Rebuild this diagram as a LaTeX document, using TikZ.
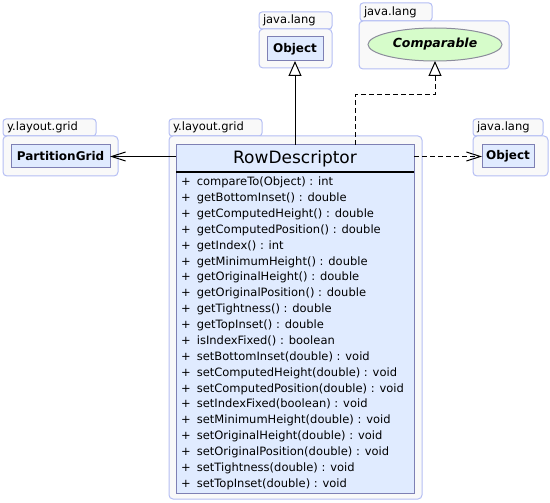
\documentclass[tikz,border=0pt]{standalone}
\usepackage{fontspec}
\setmainfont{DejaVu Sans}
\usetikzlibrary{arrows.meta,positioning,shapes.geometric}

\definecolor{pkgfill}{HTML}{F9F9F9}
\definecolor{pkgline}{HTML}{B4BEF4}
\definecolor{clsfill}{HTML}{E0EBFF}
\definecolor{clsline}{HTML}{7E80B4}
\definecolor{ifcfill}{HTML}{D6FCCA}
\definecolor{ifcline}{HTML}{8C8C9C}

\tikzset{
  pkgtab/.style={draw=pkgline,fill=pkgfill,line width=1pt,rounded corners=3pt,
    anchor=north west,inner xsep=4pt,inner ysep=0pt,outer sep=0pt,minimum height=17pt,
    align=left,font=\fontsize{11.5}{13}\selectfont},
  pkgbody/.style={draw=pkgline,fill=pkgfill,line width=1pt,rounded corners=4pt,
    anchor=north west,inner sep=0pt,outer sep=0pt},
  cls/.style={draw=clsline,fill=clsfill,line width=1pt,inner sep=0pt,outer sep=0pt,
    font=\fontsize{12}{14}\selectfont\bfseries},
  ifc/.style={ellipse,draw=ifcline,fill=ifcfill,line width=1pt,inner sep=0pt,outer sep=0pt,
    font=\fontsize{12.5}{14}\selectfont\bfseries\itshape},
  member/.style={anchor=base west,inner sep=0pt,font=\fontsize{11.5}{13}\selectfont},
  assoc/.style={line width=1pt,-{Straight Barb[length=14pt,width=9pt]}},
  dep/.style={assoc,dash pattern=on 5pt off 3pt},
  inherit/.style={line width=1pt,-{Triangle[length=15pt,width=13pt,fill=white]}},
  realize/.style={inherit,dash pattern=on 5pt off 3pt}
}

\begin{document}
\begin{tikzpicture}[x=1pt,y=-1pt]
\useasboundingbox (0,0) rectangle (550,503);

% packages
\node[pkgtab,text width=85pt] (tabGridL) at (3,119) {y.layout.grid};
\node[pkgbody,minimum width=115,minimum height=40] (pkgGridL) at (3,136) {};
\node[pkgtab,text width=85pt] (tabGridC) at (169,119) {y.layout.grid};
\node[pkgbody,minimum width=253,minimum height=363] (pkgGridC) at (169,136) {};
\node[pkgtab,text width=62pt] (tabLangR) at (473,119) {java.lang};
\node[pkgbody,minimum width=75,minimum height=40] (pkgLangR) at (473,136) {};
\node[pkgtab,text width=65pt] (tabLangT) at (259,12) {java.lang};
\node[pkgbody,minimum width=73,minimum height=39] (pkgLangT) at (259,29) {};
\node[pkgtab,text width=64pt,minimum height=18pt] (tabLangC) at (360,3) {java.lang};
\node[pkgbody,minimum width=150,minimum height=48] (pkgLangC) at (359,21) {};

% classes
\node[cls,minimum width=99,minimum height=23] (partgrid) at (60.5,156.5) {PartitionGrid};
\node[cls,minimum width=56,minimum height=24] (objT) at (295,49) {Object};
\node[cls,minimum width=52,minimum height=23] (objR) at (508,156.5) {Object};
\node[ifc,minimum width=134,minimum height=33] (comp) at (435,44.5) {Comparable};

\node[cls,anchor=north west,minimum width=238,minimum height=348] (rowdesc) at (176,145) {};
\node[inner sep=0pt,font=\fontsize{17}{19}\selectfont] (rowtitle) at (295,158.5) {RowDescriptor};
\draw[line width=2pt] ([yshift=-27pt]rowdesc.north west) -- ([yshift=-27pt]rowdesc.north east);

\foreach \m [count=\i from 0] in {compareTo(Object) : int, getBottomInset() : double,
  getComputedHeight() : double, getComputedPosition() : double, getIndex() : int,
  getMinimumHeight() : double, getOriginalHeight() : double, getOriginalPosition() : double,
  getTightness() : double, getTopInset() : double, isIndexFixed() : boolean,
  setBottomInset(double) : void, setComputedHeight(double) : void,
  setComputedPosition(double) : void, setIndexFixed(boolean) : void,
  setMinimumHeight(double) : void, setOriginalHeight(double) : void,
  setOriginalPosition(double) : void, setTightness(double) : void,
  setTopInset(double) : void}
  \node[member] (m\i) at (181,{185.7+15.87*\i}) {+\hspace{6pt}\m};

% connectors
\draw[assoc] (rowdesc.west |- partgrid.east) -- (partgrid.east);
\draw[dep] (objR.west -| rowdesc.east) -- (objR.west);
\draw[inherit] (rowdesc.north) -- (objT.south);
\draw[realize] ([xshift=60pt]rowdesc.north) -- ++(0,-50) -| (comp.south);
\end{tikzpicture}
\end{document}
